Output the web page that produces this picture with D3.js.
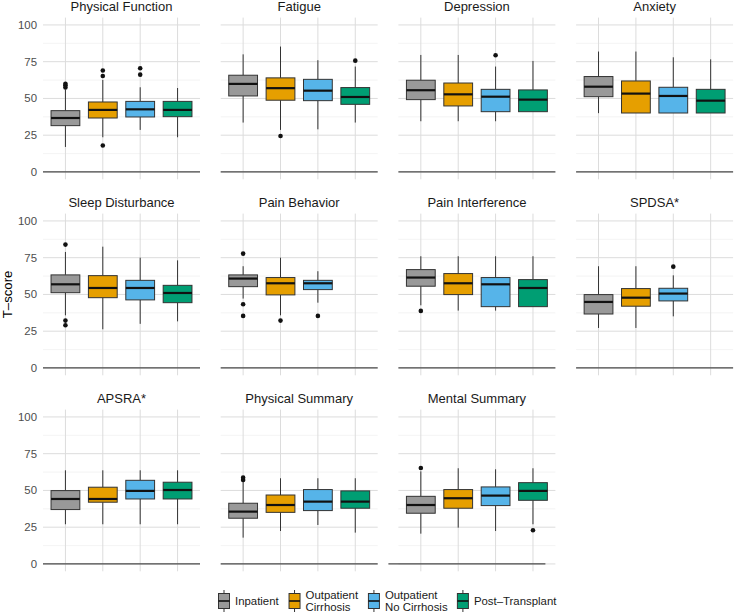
<!DOCTYPE html>
<html lang="en">
<head>
<meta charset="utf-8">
<title>T-score boxplots</title>
<script src="https://d3js.org/d3.v7.min.js"></script>
<style>
  body { margin: 0; background: #fff; }
  text { font-family: "Liberation Sans", Arial, sans-serif; }
</style>
</head>
<body>
<div id="vis"></div>
<script>
// facets, groups, colours
const panels = ["Physical Function", "Fatigue", "Depression", "Anxiety",
                "Sleep Disturbance", "Pain Behavior", "Pain Interference", "SPDSA*",
                "APSRA*", "Physical Summary", "Mental Summary"];
const groups = ["Inpatient", "Outpatient\nCirrhosis", "Outpatient\nNo Cirrhosis", "Post\u2013Transplant"];
const colors = ["#999999", "#E69F00", "#56B4E9", "#009E73"];
const yTicks = [0, 25, 50, 75, 100];
const yMinor = [12.5, 37.5, 62.5, 87.5];

// box stats per panel, order = groups (null = group absent)
const lower = [
  [17, 23.6, 28.6, 23.6], [33.6, 28.6, 29, 33.6], [34.5, 34.5, 34.5, 41], [40, 40.1, 40.1, 40.1],
  [35.8, 26.3, 30, 31.7], [47.2, 35.8, 44.4, null], [42.6, 39, 39, 41.7], [27.2, 27.2, 35.1, null],
  [27, 27, 27, 27], [17.9, 22.4, 26.5, 21.3], [20.6, 24.7, 22.4, 27]
];
const q1 = [
  [31.5, 36.7, 37.4, 37.6], [51.7, 48.8, 48.5, 46], [49.2, 44.9, 41, 41], [51.2, 40.1, 40.1, 40.1],
  [51.2, 47.8, 46.3, 44.4], [55.3, 49.7, 53.3, null], [55.6, 49.9, 41.7, 41.7], [36.7, 42, 45.6, null],
  [37, 42, 44.2, 44.2], [31.1, 35.1, 36.3, 37.9], [34.5, 37.9, 39.7, 43.3]
];
const median = [
  [36.7, 42.2, 42.6, 42.2], [59.9, 57, 55.3, 51], [55.6, 52.8, 51.2, 49.2], [58, 53.3, 51.7, 48.5],
  [56.9, 54.4, 54.4, 51], [60.8, 57.6, 57.6, null], [61.5, 57.6, 56.9, 54.4], [44.9, 47.8, 50.6, null],
  [44.2, 44.2, 49.7, 50.3], [35.6, 40.1, 42.4, 42.4], [40.1, 44.7, 46.5, 49.7]
];
const q3 = [
  [41.7, 47.6, 48, 48], [65.8, 64, 63, 57.4], [62.4, 60.5, 56.2, 55.8], [64.9, 61.9, 57.6, 56.2],
  [63.3, 62.8, 59.6, 56.2], [63.3, 61.5, 59.6, null], [66.9, 64.2, 61.5, 60.1], [49.9, 54, 54.2, null],
  [49.9, 52.2, 56.9, 55.6], [41.3, 46.9, 50.6, 49.7], [46, 50.6, 52.4, 55.3]
];
const upper = [
  [56, 62.6, 57.6, 57.1], [80, 85.3, 76, 71.7], [79.6, 79.6, 71.7, 75.5], [81.9, 81.9, 78, 76.6],
  [78.9, 82.5, 75, 73.2], [69.2, 75, 65.8, null], [76, 76, 76, 76], [69.2, 69.2, 63, null],
  [63.7, 63.7, 63.7, 63.7], [56.5, 58.3, 58.3, 58.3], [63, 65.1, 64.4, 65.1]
];
const outliers = [
  [[57.5, 59, 60], [18, 65.3, 69], [66.2, 70.5], []],
  [[], [24.5], [], [75.7]],
  [[], [], [79.4], []],
  [[], [], [], []],
  [[29, 32.2, 83.9], [], [], []],
  [[35.4, 43.3, 77.8], [32.2], [35.4], []],
  [[38.8], [], [], []],
  [[], [], [68.9], []],
  [[], [], [], []],
  [[57.1, 58.7], [], [], []],
  [[65.3], [], [], [22.9]]
];

const width = 734, height = 614;
const ncol = 4;
const left0 = 43, colStep = 177.7, panelW = 157;
const top0 = 17.6, rowStep = 196, panelH = 161.7;

const svg = d3.select("#vis").append("svg")
  .attr("width", width).attr("height", height);

const y = d3.scaleLinear().domain([-5, 105]).range([panelH, 0]);
const x = d3.scalePoint().domain(groups).range([0, panelW]).padding(0.6);
const boxW = x.step() * 0.77;

panels.forEach(function(name, p) {
  const col = p % ncol, row = Math.floor(p / ncol);
  const g = svg.append("g")
    .attr("transform", `translate(${left0 + col * colStep}, ${top0 + row * rowStep})`);

  // grid
  g.selectAll(".minor").data(yMinor).enter().append("line")
    .attr("x1", 0).attr("x2", panelW)
    .attr("y1", d => y(d)).attr("y2", d => y(d))
    .attr("stroke", "#ececec").attr("stroke-width", 0.6);
  g.selectAll(".major").data(yTicks).enter().append("line")
    .attr("x1", 0).attr("x2", panelW)
    .attr("y1", d => y(d)).attr("y2", d => y(d))
    .attr("stroke", "#dcdcdc").attr("stroke-width", 1);
  g.selectAll(".vgrid").data(groups).enter().append("line")
    .attr("x1", d => x(d)).attr("x2", d => x(d))
    .attr("y1", 0).attr("y2", panelH)
    .attr("stroke", "#dcdcdc").attr("stroke-width", 1);

  // zero line (the last facet's line sits a bit to the left in the original)
  const shift = (p === panels.length - 1) ? -10 : 0;
  g.append("line")
    .attr("x1", shift).attr("x2", panelW + shift)
    .attr("y1", y(0)).attr("y2", y(0))
    .attr("stroke", "#4a4a4a").attr("stroke-width", 1.2);

  // y labels on first column
  if (col === 0) {
    g.selectAll(".ytick").data(yTicks).enter().append("text")
      .attr("x", -6).attr("y", d => y(d))
      .attr("dy", "0.35em")
      .attr("text-anchor", "end")
      .attr("font-size", 11.4)
      .attr("fill", "#4d4d4d")
      .text(d => d);
  }

  // facet title
  g.append("text")
    .attr("x", panelW / 2).attr("y", -6.5)
    .attr("text-anchor", "middle")
    .attr("font-size", 13)
    .attr("fill", "#1a1a1a")
    .text(name);

  // boxes
  groups.forEach(function(grp, i) {
    if (median[p][i] === null) return;
    const cx = x(grp);
    g.append("line")
      .attr("x1", cx).attr("x2", cx)
      .attr("y1", y(upper[p][i])).attr("y2", y(q3[p][i]))
      .attr("stroke", "#333").attr("stroke-width", 1);
    g.append("line")
      .attr("x1", cx).attr("x2", cx)
      .attr("y1", y(q1[p][i])).attr("y2", y(lower[p][i]))
      .attr("stroke", "#333").attr("stroke-width", 1);
    g.append("rect")
      .attr("x", cx - boxW / 2).attr("width", boxW)
      .attr("y", y(q3[p][i])).attr("height", y(q1[p][i]) - y(q3[p][i]))
      .attr("fill", colors[i])
      .attr("stroke", "#333").attr("stroke-width", 1);
    g.append("line")
      .attr("x1", cx - boxW / 2).attr("x2", cx + boxW / 2)
      .attr("y1", y(median[p][i])).attr("y2", y(median[p][i]))
      .attr("stroke", "#111").attr("stroke-width", 2.2);
    g.selectAll(null).data(outliers[p][i]).enter().append("circle")
      .attr("cx", cx).attr("cy", d => y(d))
      .attr("r", 2.3)
      .attr("fill", "#111");
  });
});

// y axis title
svg.append("text")
  .attr("transform", `translate(7, ${top0 + (2 * rowStep + panelH) / 2}) rotate(-90)`)
  .attr("text-anchor", "middle")
  .attr("dy", "0.35em")
  .attr("font-size", 13.2)
  .attr("fill", "#000")
  .text("T\u2013score");

// legend
const legY = 601;
const leg = svg.append("g");
let cursor = 0;
groups.forEach(function(grp, i) {
  const item = leg.append("g").attr("transform", `translate(${cursor}, ${legY})`);
  const kx = 0;
  item.append("line")
    .attr("x1", kx).attr("x2", kx).attr("y1", -11).attr("y2", 11)
    .attr("stroke", "#333").attr("stroke-width", 1);
  item.append("rect")
    .attr("x", kx - 5.5).attr("y", -7.5).attr("width", 11).attr("height", 15)
    .attr("fill", colors[i]).attr("stroke", "#333").attr("stroke-width", 1);
  item.append("line")
    .attr("x1", kx - 5.5).attr("x2", kx + 5.5).attr("y1", 0).attr("y2", 0)
    .attr("stroke", "#111").attr("stroke-width", 1.6);
  const lines = grp.split("\n");
  const t = item.append("text")
    .attr("x", 11)
    .attr("font-size", 11.4)
    .attr("fill", "#1a1a1a");
  lines.forEach(function(l, k) {
    t.append("tspan")
      .attr("x", 11)
      .attr("y", (k - (lines.length - 1) / 2) * 13)
      .attr("dy", "0.35em")
      .text(l);
  });
  const tw = t.node().getBBox().width;
  cursor += 11 + tw + 15;
});
const legStart = 224;
leg.attr("transform", `translate(${legStart}, 0)`);
</script>
</body>
</html>
